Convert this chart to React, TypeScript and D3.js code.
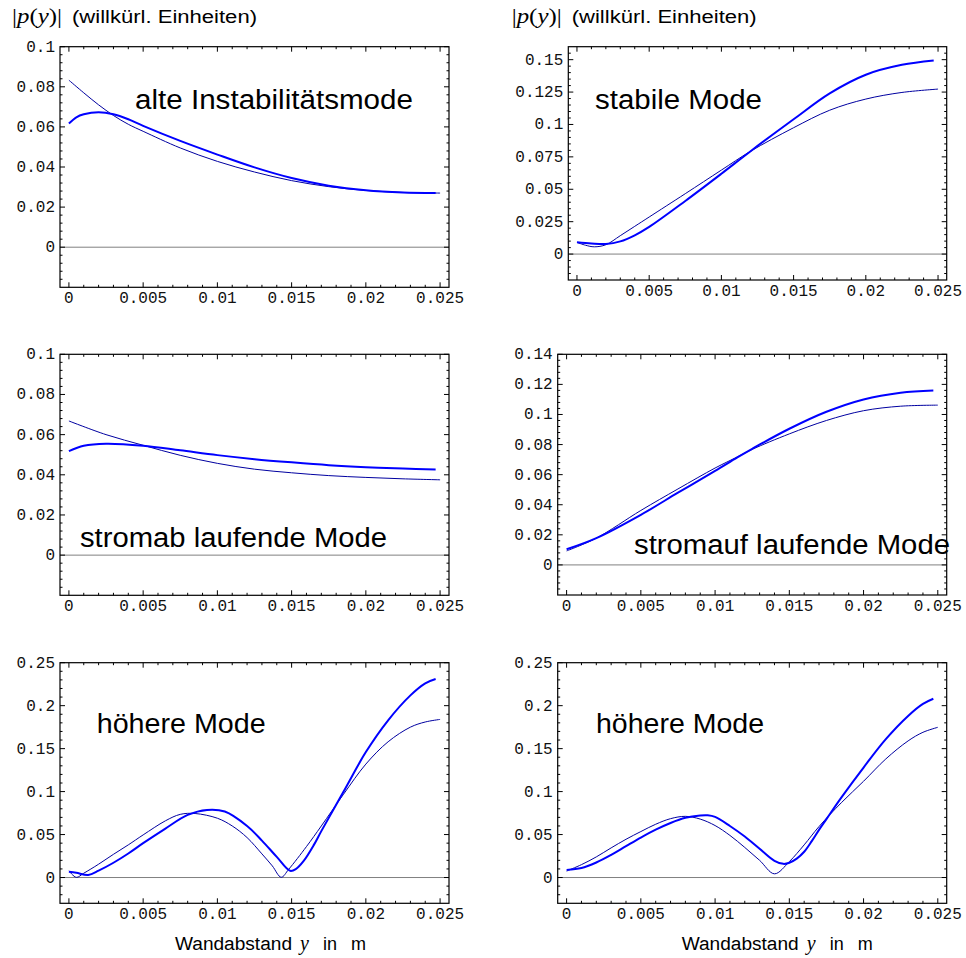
import React from "react";
import * as d3 from "d3";

// ---------- data ----------
const xTickValues = [0, 0.005, 0.01, 0.015, 0.02, 0.025];
const xTickLabels = ["0", "0.005", "0.01", "0.015", "0.02", "0.025"];

const yTicksA = [0, 0.02, 0.04, 0.06, 0.08, 0.1];
const yLabelsA = ["0", "0.02", "0.04", "0.06", "0.08", "0.1"];
const yTicksB = [0, 0.025, 0.05, 0.075, 0.1, 0.125, 0.15];
const yLabelsB = ["0", "0.025", "0.05", "0.075", "0.1", "0.125", "0.15"];
const yTicksC = [0, 0.02, 0.04, 0.06, 0.08, 0.1, 0.12, 0.14];
const yLabelsC = ["0", "0.02", "0.04", "0.06", "0.08", "0.1", "0.12", "0.14"];
const yTicksD = [0, 0.05, 0.1, 0.15, 0.2, 0.25];
const yLabelsD = ["0", "0.05", "0.1", "0.15", "0.2", "0.25"];

const panelTitles = [
  "alte Instabilitätsmode",
  "stabile Mode",
  "stromab laufende Mode",
  "stromauf laufende Mode",
  "höhere Mode",
  "höhere Mode",
];

// panel 1: alte Instabilitätsmode
const p1ThinX = [0, 0.001, 0.002, 0.003, 0.004, 0.005, 0.0075, 0.01, 0.0125, 0.015, 0.0175, 0.02, 0.0225, 0.025];
const p1ThinY = [0.0833, 0.077, 0.071, 0.0657, 0.0613, 0.0578, 0.0495, 0.0428, 0.0375, 0.0332, 0.0302, 0.0283, 0.0273, 0.027];
const p1ThickX = [0, 0.0005, 0.001, 0.002, 0.003, 0.004, 0.005, 0.0075, 0.01, 0.0125, 0.015, 0.0175, 0.02, 0.0225, 0.0247];
const p1ThickY = [0.0617, 0.0648, 0.0663, 0.0673, 0.0663, 0.0638, 0.0605, 0.053, 0.0462, 0.0398, 0.0345, 0.0307, 0.0284, 0.0273, 0.027];

// panel 2: stabile Mode
const p2ThinX = [0, 0.0006, 0.0012, 0.002, 0.003, 0.004, 0.005, 0.0075, 0.01, 0.012, 0.015, 0.0175, 0.02, 0.0225, 0.025];
const p2ThinY = [0.009, 0.0068, 0.0056, 0.0072, 0.0142, 0.0214, 0.0286, 0.0466, 0.0648, 0.0792, 0.0975, 0.111, 0.1196, 0.1247, 0.1273];
const p2ThickX = [0, 0.001, 0.002, 0.003, 0.004, 0.005, 0.0075, 0.01, 0.012, 0.015, 0.0175, 0.02, 0.0225, 0.0247];
const p2ThickY = [0.0092, 0.0082, 0.0078, 0.0098, 0.0145, 0.021, 0.041, 0.062, 0.0792, 0.104, 0.124, 0.1384, 0.146, 0.1494];

// panel 3: stromab laufende Mode
const p3ThinX = [0, 0.0025, 0.005, 0.0075, 0.01, 0.0125, 0.015, 0.0175, 0.02, 0.0225, 0.025];
const p3ThinY = [0.0668, 0.06, 0.0547, 0.0497, 0.0457, 0.0428, 0.041, 0.0396, 0.0387, 0.038, 0.0375];
const p3ThickX = [0, 0.001, 0.0025, 0.005, 0.0075, 0.01, 0.0125, 0.015, 0.0175, 0.02, 0.0225, 0.0247];
const p3ThickY = [0.0518, 0.0545, 0.0555, 0.0545, 0.0522, 0.0498, 0.0478, 0.0462, 0.0448, 0.0438, 0.0431, 0.0427];

// panel 4: stromauf laufende Mode
const p4ThinX = [0, 0.002, 0.005, 0.0075, 0.01, 0.0115, 0.0125, 0.015, 0.0175, 0.02, 0.0225, 0.025];
const p4ThinY = [0.0093, 0.0178, 0.0362, 0.0505, 0.0644, 0.0718, 0.0768, 0.0871, 0.096, 0.1025, 0.1055, 0.1062];
const p4ThickX = [0, 0.002, 0.005, 0.0075, 0.01, 0.0115, 0.0125, 0.015, 0.0175, 0.02, 0.0225, 0.0247];
const p4ThickY = [0.0104, 0.0178, 0.0333, 0.048, 0.0625, 0.0715, 0.0772, 0.0905, 0.1018, 0.11, 0.1145, 0.116];

// panel 5: höhere Mode (left)
const p5ThinX = [0, 0.0005, 0.001, 0.002, 0.003, 0.004, 0.005, 0.0065, 0.0075, 0.0085, 0.01, 0.011, 0.012, 0.013, 0.0137, 0.0143, 0.0148, 0.016, 0.017, 0.0185, 0.02, 0.0215, 0.023, 0.024, 0.025];
const p5ThinY = [0.0078, 0.0002, 0.005, 0.0155, 0.027, 0.038, 0.0496, 0.066, 0.0735, 0.0745, 0.069, 0.06, 0.0465, 0.0275, 0.0135, 0.0003, 0.0095, 0.036, 0.06, 0.097, 0.132, 0.158, 0.175, 0.181, 0.184];
const p5ThickX = [0, 0.0005, 0.0013, 0.002, 0.003, 0.004, 0.005, 0.0065, 0.008, 0.0093, 0.0105, 0.012, 0.013, 0.014, 0.0149, 0.0153, 0.0158, 0.0165, 0.017, 0.0185, 0.02, 0.0215, 0.023, 0.024, 0.0247];
const p5ThickY = [0.0068, 0.0055, 0.003, 0.008, 0.0172, 0.028, 0.04, 0.057, 0.0729, 0.0787, 0.0768, 0.06, 0.043, 0.024, 0.0078, 0.01, 0.019, 0.038, 0.054, 0.1, 0.146, 0.183, 0.212, 0.226, 0.231];

// panel 6: höhere Mode (right)
const p6ThinX = [0, 0.001, 0.002, 0.003, 0.004, 0.005, 0.006, 0.007, 0.008, 0.009, 0.01, 0.011, 0.012, 0.013, 0.014, 0.015, 0.016, 0.017, 0.0185, 0.02, 0.0215, 0.023, 0.024, 0.025];
const p6ThinY = [0.0075, 0.015, 0.024, 0.0345, 0.0445, 0.0535, 0.062, 0.0685, 0.0712, 0.068, 0.0605, 0.049, 0.035, 0.02, 0.0043, 0.0185, 0.038, 0.0593, 0.087, 0.112, 0.138, 0.159, 0.169, 0.1748];
const p6ThickX = [0, 0.001, 0.002, 0.003, 0.004, 0.005, 0.006, 0.007, 0.008, 0.009, 0.0095, 0.01, 0.011, 0.012, 0.013, 0.014, 0.0146, 0.015, 0.0155, 0.016, 0.0165, 0.017, 0.0175, 0.0185, 0.02, 0.0215, 0.023, 0.024, 0.0247];
const p6ThickY = [0.0089, 0.011, 0.0175, 0.0264, 0.0365, 0.0465, 0.0557, 0.0635, 0.0695, 0.0722, 0.0724, 0.0705, 0.06, 0.0477, 0.0335, 0.0195, 0.0159, 0.0172, 0.022, 0.03, 0.042, 0.0555, 0.068, 0.093, 0.128, 0.161, 0.188, 0.202, 0.208];

const xDomain: [number, number] = [-0.0006, 0.0256];

// ---------- layout ----------
type PanelCfg = {
  left: number; right: number; top: number; bottom: number;
  yDomain: [number, number];
  yTicks: number[]; yLabels: string[]; yMinor: number;
  thin: [number[], number[]]; thick: [number[], number[]];
  title: string; tx: number; ty: number; tlen: number;
};

const panels: PanelCfg[] = [
  { left: 60, right: 449, top: 46.7, bottom: 287.3, yDomain: [-0.02, 0.1], yTicks: yTicksA, yLabels: yLabelsA, yMinor: 0.004,
    thin: [p1ThinX, p1ThinY], thick: [p1ThickX, p1ThickY], title: panelTitles[0], tx: 135, ty: 109.3, tlen: 278 },
  { left: 568.3, right: 946.7, top: 46.7, bottom: 280, yDomain: [-0.02, 0.16], yTicks: yTicksB, yLabels: yLabelsB, yMinor: 0.005,
    thin: [p2ThinX, p2ThinY], thick: [p2ThickX, p2ThickY], title: panelTitles[1], tx: 595, ty: 109.3, tlen: 167 },
  { left: 60, right: 449, top: 354.3, bottom: 595.3, yDomain: [-0.02, 0.1], yTicks: yTicksA, yLabels: yLabelsA, yMinor: 0.004,
    thin: [p3ThinX, p3ThinY], thick: [p3ThickX, p3ThickY], title: panelTitles[2], tx: 80, ty: 546.7, tlen: 307 },
  { left: 557.7, right: 946.7, top: 354.3, bottom: 595, yDomain: [-0.02, 0.14], yTicks: yTicksC, yLabels: yLabelsC, yMinor: 0.004,
    thin: [p4ThinX, p4ThinY], thick: [p4ThickX, p4ThickY], title: panelTitles[3], tx: 634, ty: 554.3, tlen: 316 },
  { left: 60, right: 449, top: 662.7, bottom: 903.3, yDomain: [-0.03, 0.25], yTicks: yTicksD, yLabels: yLabelsD, yMinor: 0.01,
    thin: [p5ThinX, p5ThinY], thick: [p5ThickX, p5ThickY], title: panelTitles[4], tx: 96.7, ty: 733.3, tlen: 169 },
  { left: 557.7, right: 946.7, top: 662.7, bottom: 903.3, yDomain: [-0.03, 0.25], yTicks: yTicksD, yLabels: yLabelsD, yMinor: 0.01,
    thin: [p6ThinX, p6ThinY], thick: [p6ThickX, p6ThickY], title: panelTitles[5], tx: 596, ty: 733.3, tlen: 168 },
];

const MONO = "'Liberation Mono', 'DejaVu Sans Mono', monospace";
const SANS = "'Liberation Sans', Arial, sans-serif";
const SERIF = "'Liberation Serif', 'DejaVu Serif', serif";

function Panel({ p }: { p: PanelCfg }) {
  const x = d3.scaleLinear().domain(xDomain).range([p.left, p.right]);
  const y = d3.scaleLinear().domain(p.yDomain).range([p.bottom, p.top]);
  const line = d3
    .line<[number, number]>()
    .x((d) => x(d[0]))
    .y((d) => y(d[1]))
    .curve(d3.curveCatmullRom.alpha(0.5));
  const toPts = (s: [number[], number[]]) => s[0].map((v, i) => [v, s[1][i]] as [number, number]);

  const xMinor = d3.range(0, 0.0256, 0.001).filter((v) => !xTickValues.some((t) => Math.abs(t - v) < 1e-9));
  const yMinorVals = d3
    .range(Math.ceil(p.yDomain[0] / p.yMinor) * p.yMinor, p.yDomain[1] + 1e-9, p.yMinor)
    .filter((v) => !p.yTicks.some((t) => Math.abs(t - v) < 1e-9))
    .filter((v) => v > p.yDomain[0] + 1e-9 && v < p.yDomain[1] - 1e-9);
  const MJ = 5;
  const MN = 2.5;

  return (
    <g>
      <line x1={p.left} x2={p.right} y1={y(0)} y2={y(0)} stroke="#808080" strokeWidth={1} />
      <path d={line(toPts(p.thin)) || ""} fill="none" stroke="#0000a0" strokeWidth={1} />
      <path d={line(toPts(p.thick)) || ""} fill="none" stroke="#0000ff" strokeWidth={2} />
      <rect x={p.left} y={p.top} width={p.right - p.left} height={p.bottom - p.top} fill="none" stroke="#000" strokeWidth={1.2} />
      {xTickValues.map((t, i) => (
        <g key={"xt" + i}>
          <line x1={x(t)} x2={x(t)} y1={p.bottom} y2={p.bottom - MJ} stroke="#000" strokeWidth={1} />
          <line x1={x(t)} x2={x(t)} y1={p.top} y2={p.top + MJ} stroke="#000" strokeWidth={1} />
          <text x={x(t)} y={p.bottom + 15.5} textAnchor="middle" fontFamily={MONO} fontSize={16} fill="#111">
            {xTickLabels[i]}
          </text>
        </g>
      ))}
      {xMinor.map((t, i) => (
        <g key={"xm" + i}>
          <line x1={x(t)} x2={x(t)} y1={p.bottom} y2={p.bottom - MN} stroke="#000" strokeWidth={1} />
          <line x1={x(t)} x2={x(t)} y1={p.top} y2={p.top + MN} stroke="#000" strokeWidth={1} />
        </g>
      ))}
      {p.yTicks.map((t, i) => (
        <g key={"yt" + i}>
          <line x1={p.left} x2={p.left + MJ} y1={y(t)} y2={y(t)} stroke="#000" strokeWidth={1} />
          <line x1={p.right} x2={p.right - MJ} y1={y(t)} y2={y(t)} stroke="#000" strokeWidth={1} />
          <text x={p.left - 5} y={y(t) + 5} textAnchor="end" fontFamily={MONO} fontSize={16} fill="#111">
            {p.yLabels[i]}
          </text>
        </g>
      ))}
      {yMinorVals.map((t, i) => (
        <g key={"ym" + i}>
          <line x1={p.left} x2={p.left + MN} y1={y(t)} y2={y(t)} stroke="#000" strokeWidth={1} />
          <line x1={p.right} x2={p.right - MN} y1={y(t)} y2={y(t)} stroke="#000" strokeWidth={1} />
        </g>
      ))}
      <text x={p.tx} y={p.ty} fontFamily={SANS} fontSize={27} fill="#000" textLength={p.tlen} lengthAdjust="spacingAndGlyphs">
        {p.title}
      </text>
    </g>
  );
}

function YTitle({ x, y }: { x: number; y: number }) {
  return (
    <g>
      <text x={x} y={y} fontFamily={SERIF} fontSize={20} fill="#000" textLength={50} lengthAdjust="spacingAndGlyphs">
        <tspan>|</tspan>
        <tspan fontStyle="italic">p</tspan>
        <tspan>(</tspan>
        <tspan fontStyle="italic">y</tspan>
        <tspan>)|</tspan>
      </text>
      <text x={x + 60} y={y} fontFamily={SANS} fontSize={18} fill="#000" textLength={185} lengthAdjust="spacingAndGlyphs">
        (willkürl. Einheiten)
      </text>
    </g>
  );
}

function XTitle({ x, y }: { x: number; y: number }) {
  return (
    <g>
      <text x={x} y={y} fontFamily={SANS} fontSize={18} fill="#000" textLength={117} lengthAdjust="spacingAndGlyphs">
        Wandabstand
      </text>
      <text x={x + 125} y={y} fontFamily={SERIF} fontStyle="italic" fontSize={20} fill="#000">
        y
      </text>
      <text x={x + 148} y={y} fontFamily={SANS} fontSize={18} fill="#000">
        in
      </text>
      <text x={x + 176} y={y} fontFamily={SANS} fontSize={18} fill="#000">
        m
      </text>
    </g>
  );
}

export default function App() {
  return (
    <svg width={966} height={958} style={{ position: "absolute", left: 0, top: 0, background: "#fff" }}>
      <rect x={0} y={0} width={966} height={958} fill="#fff" />
      <YTitle x={12} y={23} />
      <YTitle x={511.7} y={23} />
      {panels.map((p, i) => (
        <Panel key={i} p={p} />
      ))}
      <XTitle x={175} y={950} />
      <XTitle x={681.7} y={950} />
    </svg>
  );
}
